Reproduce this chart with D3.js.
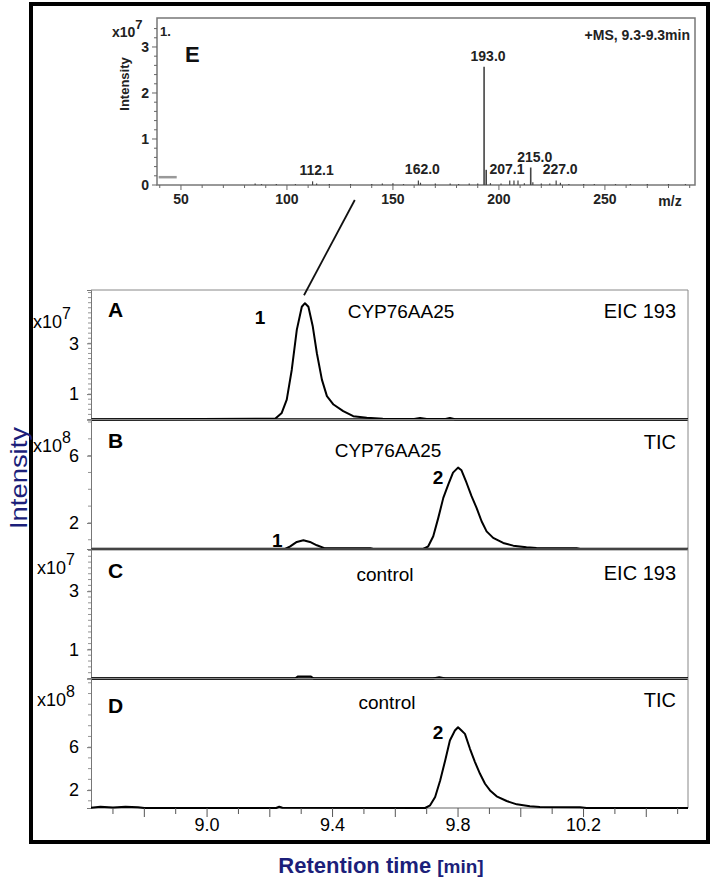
<!DOCTYPE html>
<html>
<head>
<meta charset="utf-8">
<script src="https://cdn.jsdelivr.net/npm/d3@7"></script>
<style>
  body { margin: 0; background: #fff; }
  text { font-family: Arial, "Liberation Sans", sans-serif; }
</style>
</head>
<body>
<svg id="chart"></svg>
<script>
// ---- data ----
// retention time axis (min)
var rtDomain = [8.63, 10.533];
var rtTicks = [9.0, 9.4, 9.8, 10.2];

// chromatogram panels A-D
var panelLetters = ["A", "B", "C", "D"];
var panelSamples = ["CYP76AA25", "CYP76AA25", "control", "control"];
var panelTraces = ["EIC 193", "TIC", "EIC 193", "TIC"];
var panelExponents = ["7", "8", "7", "8"];
var panelDomains = [[0, 5.1], [0.45, 8.15], [0, 4.45], [0.33, 12.4]];
var panelTicks = [[1, 3], [2, 6], [1, 3], [2, 6]];

// [retention time, intensity] - A: x10^7, B: x10^8, C: x10^7, D: x10^8
var traceA = [[8.63, 0], [9.217, 0.03], [9.238, 0.26], [9.254, 0.78], [9.270, 1.96], [9.286, 3.53],
  [9.302, 4.44], [9.312, 4.58], [9.323, 4.44], [9.337, 3.66], [9.350, 2.61], [9.366, 1.57],
  [9.382, 0.92], [9.403, 0.59], [9.434, 0.33], [9.466, 0.13], [9.509, 0.07], [9.56, 0.03],
  [9.66, 0.02], [9.679, 0.06], [9.70, 0.02], [9.76, 0.02], [9.774, 0.06], [9.79, 0.01], [10.533, 0]];
var traceB = [[8.63, 0.45], [9.249, 0.45], [9.265, 0.61], [9.286, 0.87], [9.307, 0.97], [9.328, 0.87],
  [9.350, 0.67], [9.376, 0.49], [9.520, 0.49], [9.53, 0.45], [9.689, 0.45], [9.705, 0.61], [9.721, 1.21],
  [9.737, 2.30], [9.753, 3.49], [9.769, 4.29], [9.784, 4.99], [9.800, 5.29], [9.811, 5.13], [9.827, 4.39],
  [9.843, 3.59], [9.859, 2.90], [9.875, 2.10], [9.891, 1.50], [9.912, 1.11], [9.944, 0.81], [9.976, 0.65],
  [10.018, 0.55], [10.050, 0.51], [10.178, 0.49], [10.189, 0.45], [10.533, 0.45]];
var traceC = [[8.63, 0], [9.28, 0], [9.29, 0.07], [9.33, 0.07], [9.34, 0], [9.72, 0],
  [9.74, 0.04], [9.76, 0], [10.533, 0]];
var traceD = [[8.63, 0.35], [8.66, 0.45], [8.70, 0.38], [8.74, 0.45], [8.78, 0.40], [8.80, 0.33],
  [9.22, 0.33], [9.23, 0.45], [9.24, 0.35], [9.695, 0.33], [9.711, 0.58], [9.727, 1.35], [9.743, 2.90],
  [9.759, 4.76], [9.774, 6.62], [9.790, 7.55], [9.800, 7.86], [9.811, 7.55], [9.822, 7.24], [9.838, 5.85],
  [9.854, 4.61], [9.870, 3.52], [9.886, 2.59], [9.902, 1.97], [9.923, 1.42], [9.955, 0.98], [9.987, 0.67],
  [10.029, 0.49], [10.061, 0.42], [10.189, 0.39], [10.210, 0.33], [10.533, 0.33]];
var traces = [traceA, traceB, traceC, traceD];

// numbered peaks: [panel, label, retention time, intensity]
var peakIds = [[0, "1", 9.312, 4.58], [1, "1", 9.307, 0.97], [1, "2", 9.800, 5.29], [3, "2", 9.800, 7.86]];

// mass spectrum E (m/z, intensity x10^7)
var msDomain = [38.7, 292.5];
var msTicks = [50, 100, 150, 200, 250];
var msYTicks = [0, 1, 2, 3];
var msPeaks = [[85, 0.03], [88, 0.02], [95, 0.02], [104, 0.02], [112.1, 0.08], [114, 0.03], [120, 0.02],
  [130, 0.02], [140, 0.02], [145, 0.03], [150, 0.04], [155, 0.02], [162.0, 0.10], [163, 0.05], [170, 0.03],
  [177, 0.03], [181, 0.02], [186, 0.03], [190, 0.03], [193.0, 2.57], [194, 0.33], [196, 0.04], [201, 0.03],
  [205.1, 0.10], [207.1, 0.10], [209, 0.10], [212, 0.04], [215.0, 0.38], [216, 0.06], [220, 0.03],
  [224, 0.03], [227.0, 0.10], [229, 0.05], [233, 0.02], [240, 0.02], [245, 0.02], [255, 0.02],
  [262, 0.02], [270, 0.02], [280, 0.02], [288, 0.02]];
var msLabels = [[112.1, "112.1"], [162.0, "162.0"], [193.0, "193.0"], [207.1, "207.1"], [215.0, "215.0"], [227.0, "227.0"]];
var msMarker = [[39.5, 0.17], [48, 0.17]];

// ---- drawing ----
var W = 714, H = 879;
var navy = "#1c1f7a";
var svg = d3.select("#chart").attr("width", W).attr("height", H);

// outer frame
svg.append("rect")
  .attr("x", 31).attr("y", 4).attr("width", 677).attr("height", 838)
  .attr("fill", "none").attr("stroke", "#000").attr("stroke-width", 4);

var plotLeft = 91, plotRight = 688, plotTop = 290, plotBottom = 808;
var panelH = (plotBottom - plotTop) / 4;

var x = d3.scaleLinear().domain(rtDomain).range([plotLeft, plotRight]);

var letterDy = [27, 28, 29, 34];
var sampleY = [318, 457, 581, 709];
var sampleX = [401, 388, 385, 387];
var traceLabelY = [318, 449, 580, 707];
var yScales = [];

panelLetters.forEach(function(letter, i) {
  var top = plotTop + i * panelH;
  var bottom = top + panelH;
  var y = d3.scaleLinear().domain(panelDomains[i]).range([bottom, top]);
  yScales.push(y);
  var g = svg.append("g");

  // panel frame: thin grey top/right, heavy separator between stacked panels
  g.append("line").attr("x1", plotLeft).attr("x2", plotRight).attr("y1", top).attr("y2", top)
    .attr("stroke", "#888").attr("stroke-width", 1);
  g.append("line").attr("x1", plotRight).attr("x2", plotRight).attr("y1", top).attr("y2", bottom)
    .attr("stroke", "#888").attr("stroke-width", 1);
  g.append("line").attr("x1", plotLeft).attr("x2", plotRight).attr("y1", bottom).attr("y2", bottom)
    .attr("stroke", i < 3 ? "#000" : "#666").attr("stroke-width", i < 3 ? 2.6 : 1.2);

  // minor ticks on the left axis
  var step = (i % 2 === 0) ? 0.2 : 1;
  var minor = d3.range(Math.ceil(panelDomains[i][0] / step), Math.floor(panelDomains[i][1] / step) + 1)
    .map(function(k) { return k * step; });
  g.selectAll(".minor").data(minor).enter().append("line")
    .attr("x1", plotLeft - 3).attr("x2", plotLeft)
    .attr("y1", function(d) { return y(d); }).attr("y2", function(d) { return y(d); })
    .attr("stroke", "#777").attr("stroke-width", 0.8);

  var axis = d3.axisLeft(y).tickValues(panelTicks[i]).tickSize(4).tickPadding(8)
    .tickFormat(d3.format("d"));
  var ag = g.append("g").attr("transform", "translate(" + plotLeft + ",0)").call(axis);
  ag.select(".domain").attr("stroke", "#777");
  ag.selectAll(".tick line").attr("stroke", "#777");
  ag.selectAll(".tick text").attr("font-size", 18).attr("fill", "#000")
    .attr("font-family", "Arial, 'Liberation Sans', sans-serif");

  // x10^n multiplier
  var expY = [328, 452, 574, 706][i];
  var mult = g.append("text").attr("x", i < 2 ? 33 : 37).attr("y", expY).attr("font-size", 18).text("x10");
  mult.append("tspan").attr("dy", -9).attr("font-size", 16).text(panelExponents[i]);

  // trace
  var line = d3.line().x(function(d) { return x(d[0]); }).y(function(d) { return y(d[1]); });
  g.append("path").datum(traces[i]).attr("d", line)
    .attr("fill", "none").attr("stroke", "#000").attr("stroke-width", 2)
    .attr("stroke-linejoin", "round");

  // panel texts
  g.append("text").attr("x", 108).attr("y", top + letterDy[i])
    .attr("font-size", 21).attr("font-weight", "bold").text(letter);
  g.append("text").attr("x", sampleX[i]).attr("y", sampleY[i]).attr("text-anchor", "middle")
    .attr("font-size", 19).text(panelSamples[i]);
  g.append("text").attr("x", 676).attr("y", traceLabelY[i]).attr("text-anchor", "end")
    .attr("font-size", 20).text(panelTraces[i]);
});

// numbered peak labels
var peakDx = [-45, -26, -20, -20];
var peakDy = [21, 7, 16, 12];
peakIds.forEach(function(p, k) {
  svg.append("text")
    .attr("x", x(p[2]) + peakDx[k]).attr("y", yScales[p[0]](p[3]) + peakDy[k])
    .attr("text-anchor", "middle").attr("font-family", "Lato, 'Noto Sans', sans-serif")
    .attr("font-weight", "bold").attr("font-size", 19).text(p[1]);
});

// bottom retention-time axis
var rtMinor = d3.range(87, 106).map(function(k) { return k / 10; });
svg.selectAll(".rtminor").data(rtMinor).enter().append("line")
  .attr("x1", function(d) { return x(d); }).attr("x2", function(d) { return x(d); })
  .attr("y1", plotBottom)
  .attr("y2", function(d) { return plotBottom + (Math.round(d * 10) % 2 === 0 ? 9 : 6); })
  .attr("stroke", "#555").attr("stroke-width", 1);
svg.selectAll(".rtlab").data(rtTicks).enter().append("text")
  .attr("x", function(d) { return x(d); }).attr("y", 831)
  .attr("text-anchor", "middle").attr("font-size", 18)
  .text(function(d) { return d.toFixed(1); });

var xt = svg.append("text").attr("x", 381).attr("y", 873).attr("text-anchor", "middle")
  .attr("fill", navy).attr("font-weight", "bold").attr("font-size", 22);
xt.append("tspan").text("Retention time ");
xt.append("tspan").attr("font-size", 19).text("[min]");

svg.append("text").attr("transform", "translate(27,478) rotate(-90)")
  .attr("text-anchor", "middle").attr("fill", navy).attr("font-size", 24)
  .attr("textLength", 102).attr("lengthAdjust", "spacingAndGlyphs").text("Intensity");

// ---- inset E: mass spectrum ----
var msX = d3.scaleLinear().domain(msDomain).range([157, 695]);
var msY = d3.scaleLinear().domain([0, 3.63]).range([185, 18]);
var ms = svg.append("g");

ms.append("rect").attr("x", 157).attr("y", 18).attr("width", 695 - 157).attr("height", 185 - 18)
  .attr("fill", "#fff").attr("stroke", "#777").attr("stroke-width", 1.5);

var msMinor = d3.range(4, 30).map(function(k) { return k * 10; });
ms.selectAll(".mstick").data(msMinor).enter().append("line")
  .attr("x1", function(d) { return msX(d); }).attr("x2", function(d) { return msX(d); })
  .attr("y1", msY(0)).attr("y2", function(d) { return msY(0) + (d % 50 === 0 ? 5 : 3); })
  .attr("stroke", "#666").attr("stroke-width", 1);
ms.selectAll(".mslab").data(msTicks).enter().append("text")
  .attr("x", function(d) { return msX(d); }).attr("y", 204)
  .attr("text-anchor", "middle").attr("font-size", 14).attr("font-weight", "bold").attr("fill", "#222")
  .text(function(d) { return d; });

var msYMinor = d3.range(0, 18).map(function(k) { return k / 5; });
ms.selectAll(".msytick").data(msYMinor).enter().append("line")
  .attr("x1", function(d) { return 157 - (Math.abs(d - Math.round(d)) < 1e-6 ? 5 : 3); }).attr("x2", 157)
  .attr("y1", function(d) { return msY(d); }).attr("y2", function(d) { return msY(d); })
  .attr("stroke", "#666").attr("stroke-width", 1);
ms.selectAll(".msylab").data(msYTicks).enter().append("text")
  .attr("x", 149).attr("y", function(d) { return msY(d) + 5; })
  .attr("text-anchor", "end").attr("font-size", 14).attr("font-weight", "bold").attr("fill", "#222")
  .text(function(d) { return d; });

ms.append("line").attr("x1", msX(msMarker[0][0])).attr("x2", msX(msMarker[1][0]))
  .attr("y1", msY(msMarker[0][1])).attr("y2", msY(msMarker[1][1]))
  .attr("stroke", "#999").attr("stroke-width", 2.5);

ms.selectAll(".bar").data(msPeaks).enter().append("line")
  .attr("x1", function(d) { return msX(d[0]); }).attr("x2", function(d) { return msX(d[0]); })
  .attr("y1", msY(0)).attr("y2", function(d) { return msY(d[1]); })
  .attr("stroke", "#444").attr("stroke-width", function(d) { return d[1] > 0.2 ? 1.6 : 1.2; });

var msLabDx = { "207.1": -7 };
ms.selectAll(".pklab").data(msLabels).enter().append("text")
  .attr("x", function(d) { return msX(d[0]) + (msLabDx[d[1]] || 4); })
  .attr("y", function(d) {
    var v = msPeaks.find(function(p) { return p[0] === d[0]; })[1];
    return msY(v) - 6;
  })
  .attr("text-anchor", "middle").attr("font-size", 14).attr("font-weight", "bold").attr("fill", "#222")
  .text(function(d) { return d[1]; });

var mt = ms.append("text").attr("x", 112).attr("y", 37).attr("font-size", 14)
  .attr("font-weight", "bold").attr("fill", "#222").text("x10");
mt.append("tspan").attr("dy", -8).attr("font-size", 13).text("7");
ms.append("text").attr("transform", "translate(129,84) rotate(-90)").attr("text-anchor", "middle")
  .attr("font-size", 13).attr("font-weight", "bold").attr("fill", "#222").text("Intensity");
ms.append("text").attr("x", 160).attr("y", 36).attr("font-size", 13).attr("font-weight", "bold")
  .attr("fill", "#222").text("1.");
ms.append("text").attr("x", 185).attr("y", 62).attr("font-size", 22).attr("font-weight", "bold")
  .attr("fill", "#111").text("E");
ms.append("text").attr("x", 690).attr("y", 40).attr("text-anchor", "end").attr("font-size", 14)
  .attr("font-weight", "bold").attr("fill", "#222").text("+MS, 9.3-9.3min");
ms.append("text").attr("x", 670).attr("y", 206).attr("text-anchor", "middle").attr("font-size", 14)
  .attr("font-weight", "bold").attr("fill", "#222").text("m/z");

// connector from the spectrum to peak 1 in panel A
svg.append("line")
  .attr("x1", msX(132)).attr("y1", msY(0) + 15)
  .attr("x2", x(9.309)).attr("y2", yScales[0](4.58) - 8)
  .attr("stroke", "#111").attr("stroke-width", 1.8);
</script>
</body>
</html>
